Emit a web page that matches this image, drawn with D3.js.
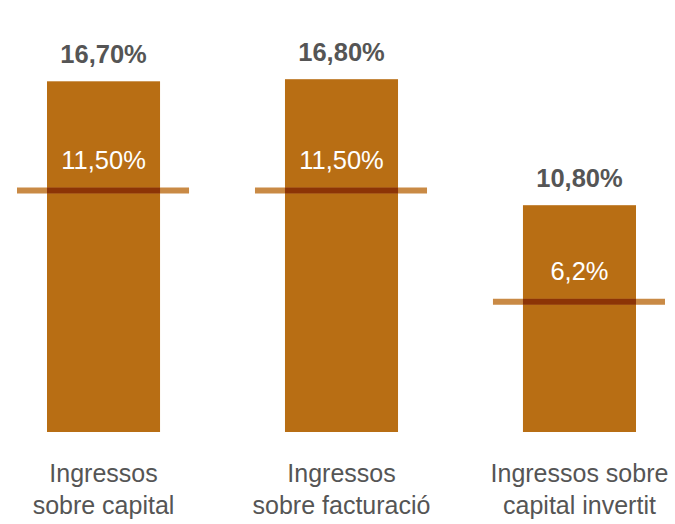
<!DOCTYPE html>
<html>
<head>
<meta charset="utf-8">
<script src="https://cdn.jsdelivr.net/npm/d3@7"></script>
<style>
  body { margin: 0; background: #fff; }
  text { font-family: "Liberation Sans", Arial, Helvetica, sans-serif; }
</style>
</head>
<body>
<svg id="chart" width="675" height="524"></svg>
<script>
const categories = [["Ingressos", "sobre capital"], ["Ingressos", "sobre facturació"], ["Ingressos sobre", "capital invertit"]];
const values = [16.7, 16.8, 10.8];
const valueLabels = ["16,70%", "16,80%", "10,80%"];
const benchmarks = [11.5, 11.5, 6.2];
const benchmarkLabels = ["11,50%", "11,50%", "6,2%"];

const svg = d3.select("#chart");
const x = d3.scaleBand().domain(d3.range(categories.length)).range([47, 636]).paddingInner(0.525).paddingOuter(0);
const y = d3.scaleLinear().domain([0, 20]).range([432, 12]);

const g = svg.append("g");
const idx = d3.range(categories.length);

g.selectAll("rect.bar").data(idx).join("rect")
  .attr("class", "bar")
  .attr("x", i => x(i))
  .attr("width", x.bandwidth())
  .attr("y", i => y(values[i]))
  .attr("height", i => y(0) - y(values[i]))
  .attr("fill", "#b86e14");

g.selectAll("line.bench").data(idx).join("line")
  .attr("class", "bench")
  .attr("x1", i => x(i) - 30)
  .attr("x2", i => x(i) + x.bandwidth() + 29)
  .attr("y1", i => y(benchmarks[i]))
  .attr("y2", i => y(benchmarks[i]))
  .attr("stroke", "#c98a45")
  .attr("stroke-width", 6);

g.selectAll("line.benchIn").data(idx).join("line")
  .attr("class", "benchIn")
  .attr("x1", i => x(i))
  .attr("x2", i => x(i) + x.bandwidth())
  .attr("y1", i => y(benchmarks[i]))
  .attr("y2", i => y(benchmarks[i]))
  .attr("stroke", "#8c3406")
  .attr("stroke-width", 6);

g.selectAll("text.bl").data(idx).join("text")
  .attr("class", "bl")
  .attr("x", i => x(i) + x.bandwidth() / 2)
  .attr("y", i => y(benchmarks[i]) - 22)
  .attr("text-anchor", "middle")
  .attr("fill", "#fff")
  .attr("font-size", 25.5)
  .text(i => benchmarkLabels[i]);

g.selectAll("text.vl").data(idx).join("text")
  .attr("class", "vl")
  .attr("x", i => x(i) + x.bandwidth() / 2)
  .attr("y", i => y(values[i]) - 18)
  .attr("text-anchor", "middle")
  .attr("fill", "#555")
  .attr("font-size", 25.5)
  .attr("font-weight", "bold")
  .text(i => valueLabels[i]);

const cl = g.selectAll("text.cl").data(idx).join("text")
  .attr("class", "cl")
  .attr("text-anchor", "middle")
  .attr("fill", "#555")
  .attr("font-size", 25);
cl.selectAll("tspan").data(i => categories[i].map(t => ({t, i}))).join("tspan")
  .attr("x", d => x(d.i) + x.bandwidth() / 2)
  .attr("y", (d, k) => 482 + k * 32)
  .text(d => d.t);
</script>
</body>
</html>
